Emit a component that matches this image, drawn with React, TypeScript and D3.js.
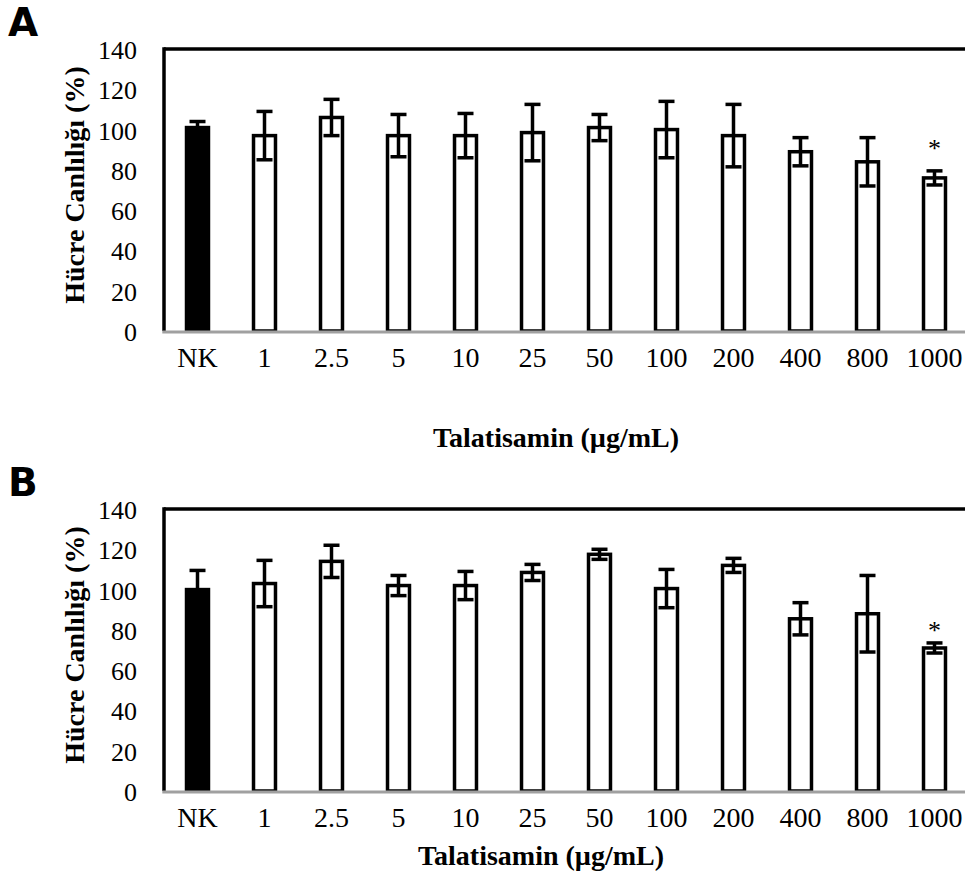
import React from 'react';
import * as d3 from 'd3';

const categories = ['NK', '1', '2.5', '5', '10', '25', '50', '100', '200', '400', '800', '1000'];
const yTicks = [0, 20, 40, 60, 80, 100, 120, 140];
const meansA = [101, 97, 106, 97, 97, 98.5, 101, 100, 97, 89, 84, 76];
const errorsA = [3, 12, 9, 10.5, 11, 14, 6.5, 14, 15.5, 7, 12, 3.5];
const meansB = [100, 103, 114, 102, 102, 108.5, 117.5, 100.5, 112, 85.5, 88, 71];
const errorsB = [9.5, 11.5, 8, 5, 7, 4, 2.5, 9.5, 3.5, 8, 19, 2.5];
const significant = ['1000'];
const starValueA = 92.5;
const starValueB = 81.5;
const panelLabels = ['A', 'B'];
const xTitle = 'Talatisamin (µg/mL)';
const yTitle = 'Hücre Canlılığı (%)';

const W = 965;
const H = 894;
const SERIF = '"Liberation Serif", "Times New Roman", serif';

type PanelProps = {
  dy: number;
  label: string;
  means: number[];
  errors: number[];
  starValue: number;
  titleX: number;
  titleY: number;
};

function Panel({ dy, label, means, errors, starValue, titleX, titleY }: PanelProps) {
  const left = 164;
  const right = 968;
  const top = 49;
  const bottom = 331;
  const x = d3
    .scaleBand<string>()
    .domain(categories)
    .range([left, right])
    .paddingInner(0.672)
    .paddingOuter(0.336);
  const y = d3.scaleLinear().domain([0, 140]).range([bottom, top]);
  const bw = x.bandwidth();
  const capHalf = 8;
  return (
    <g transform={`translate(0,${dy})`}>
      <text x={8} y={36} fontFamily='"DejaVu Sans", sans-serif' fontWeight={900} fontSize={39} fill="#000">
        {label}
      </text>
      {/* frame */}
      <line x1={left} x2={right} y1={top} y2={top} stroke="#000" strokeWidth={3.5} />
      <line x1={left} x2={left} y1={top - 1.7} y2={bottom} stroke="#000" strokeWidth={3.5} />
      {/* y ticks */}
      {yTicks.map((t) => (
        <text key={t} x={137} y={y(t) + 10} textAnchor="end" fontFamily={SERIF} fontSize={26} fill="#000">
          {t}
        </text>
      ))}
      {/* bars */}
      {categories.map((c, i) => {
        const x0 = x(c)!;
        const isCtrl = i === 0;
        return (
          <rect
            key={c}
            x={x0}
            y={y(means[i])}
            width={bw}
            height={y(0) - y(means[i])}
            fill={isCtrl ? '#000' : '#fff'}
            stroke="#000"
            strokeWidth={3.5}
          />
        );
      })}
      {/* error bars */}
      {categories.map((c, i) => {
        const cx = x(c)! + bw / 2;
        const hi = y(means[i] + errors[i]);
        const lo = y(means[i] - errors[i]);
        return (
          <g key={c} stroke="#000" strokeWidth={3.5}>
            <line x1={cx} x2={cx} y1={hi} y2={lo} />
            <line x1={cx - capHalf} x2={cx + capHalf} y1={hi} y2={hi} />
            <line x1={cx - capHalf} x2={cx + capHalf} y1={lo} y2={lo} />
          </g>
        );
      })}
      {/* significance */}
      {categories
        .filter((c) => significant.includes(c))
        .map((c) => (
          <text
            key={c}
            x={x(c)! + bw / 2}
            y={y(starValue) + 12}
            textAnchor="middle"
            fontFamily={SERIF}
            fontSize={26}
            fill="#000"
          >
            *
          </text>
        ))}
      {/* baseline axis */}
      <line x1={left - 1.7} x2={right} y1={bottom + 1} y2={bottom + 1} stroke="#a0a0a0" strokeWidth={3} />
      {/* x tick labels */}
      {categories.map((c) => (
        <text
          key={c}
          x={x(c)! + bw / 2}
          y={bottom + 36}
          textAnchor="middle"
          fontFamily={SERIF}
          fontSize={28}
          fill="#000"
        >
          {c}
        </text>
      ))}
      {/* axis titles */}
      <text
        x={titleX}
        y={titleY}
        textAnchor="middle"
        fontFamily={SERIF}
        fontWeight="bold"
        fontSize={28}
        fill="#000"
      >
        {xTitle}
      </text>
      <text
        transform={`translate(84,${(top + bottom) / 2 - 5}) rotate(-90)`}
        textAnchor="middle"
        fontFamily={SERIF}
        fontWeight="bold"
        fontSize={28}
        fill="#000"
      >
        {yTitle}
      </text>
    </g>
  );
}

export default function App() {
  return (
    <svg
      width={W}
      height={H}
      viewBox={`0 0 ${W} ${H}`}
      style={{ position: 'absolute', left: 0, top: 0, background: '#fff' }}
    >
      <rect x={0} y={0} width={W} height={H} fill="#fff" />
      <Panel dy={0} label={panelLabels[0]} means={meansA} errors={errorsA} starValue={starValueA} titleX={556} titleY={447} />
      <Panel dy={460} label={panelLabels[1]} means={meansB} errors={errorsB} starValue={starValueB} titleX={541} titleY={405} />
    </svg>
  );
}
